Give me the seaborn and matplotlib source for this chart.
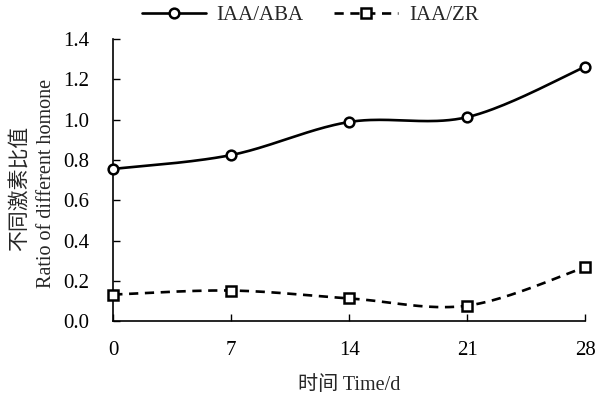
import numpy as np
import pandas as pd
import seaborn as sns
from matplotlib import pyplot as plt
from matplotlib.lines import Line2D

days = [0, 7, 14, 21, 28]
iaa_aba = [0.755, 0.824, 0.988, 1.012, 1.262]
iaa_zr = [0.132, 0.152, 0.113, 0.077, 0.268]
tick_days = [0, 7, 14, 21, 28]
y_ticks = [0.0, 0.2, 0.4, 0.6, 0.8, 1.0, 1.2, 1.4]

sns.set_style("ticks")
plt.rcParams['font.family'] = ['Liberation Serif', 'Noto Sans CJK SC']
plt.rcParams['axes.unicode_minus'] = False


def smoothLine(x, y, n=40):
    # Excel-style smoothed line (Catmull-Rom through the points)
    x = np.asarray(x, float)
    y = np.asarray(y, float)
    px = np.concatenate([[x[0]], x, [x[-1]]])
    py = np.concatenate([[y[0]], y, [y[-1]]])
    xs, ys = [], []
    t = np.linspace(0, 1, n)
    for i in range(1, len(px) - 2):
        p0, p1, p2, p3 = px[i - 1], px[i], px[i + 1], px[i + 2]
        q0, q1, q2, q3 = py[i - 1], py[i], py[i + 1], py[i + 2]
        c1x, c1y = p1 + (p2 - p0) / 6, q1 + (q2 - q0) / 6
        c2x, c2y = p2 - (p3 - p1) / 6, q2 - (q3 - q1) / 6
        bx = (1 - t) ** 3 * p1 + 3 * (1 - t) ** 2 * t * c1x + 3 * (1 - t) * t ** 2 * c2x + t ** 3 * p2
        by = (1 - t) ** 3 * q1 + 3 * (1 - t) ** 2 * t * c1y + 3 * (1 - t) * t ** 2 * c2y + t ** 3 * q2
        xs.extend(bx)
        ys.extend(by)
    return pd.DataFrame({'x': xs, 'y': ys})


fig = plt.figure(figsize=(5.96, 3.97), dpi=100)
ax = fig.add_axes([0.19, 0.191, 0.792, 0.711])

s1 = smoothLine(days, iaa_aba)
s2 = smoothLine(days, iaa_zr)
sns.lineplot(data=s1, x='x', y='y', sort=False, color='black', lw=1.9, ax=ax)
sns.lineplot(data=s2, x='x', y='y', sort=False, color='black', lw=1.9, ax=ax,
             linestyle=(0, (3.5, 2.5)))
ax.plot(days, iaa_aba, 'o', ms=7, mfc='white', mec='black', mew=1.8, clip_on=False, zorder=5)
ax.plot(days, iaa_zr, 's', ms=6.5, mfc='white', mec='black', mew=1.8, clip_on=False, zorder=5)

ax.set_xlim(0, 28)
ax.set_ylim(0, 1.4)
ax.set_xticks(tick_days)
ax.set_yticks(y_ticks)
ax.set_yticklabels([f'{v:.1f}' for v in y_ticks])
ax.tick_params(axis='both', direction='in', length=5, width=1, labelsize=15, colors='black')
ax.tick_params(axis='x', pad=14)
ax.tick_params(axis='y', pad=17)
for side in ['top', 'right']:
    ax.spines[side].set_visible(False)
for side in ['left', 'bottom']:
    ax.spines[side].set_linewidth(1.2)
    ax.spines[side].set_color('black')

ax.set_xlabel('时间 Time/d', fontsize=14.5, labelpad=12)
ax.set_ylabel('')
fig.text(21 / 596, 1 - 188 / 397, '不同激素比值', rotation=90, ha='center', va='center', fontsize=15)
fig.text(47 / 596, 1 - 183 / 397, 'Ratio of different homone', rotation=90, ha='center', va='center', fontsize=14.5)

handles = [Line2D([], [], color='black', lw=1.9, marker='o', ms=7, mfc='white', mew=1.8),
           Line2D([], [], color='black', lw=1.9, ls=(0, (3.5, 2.5)), marker='s', ms=6.5, mfc='white', mew=1.8)]
fig.legend(handles, ['IAA/ABA', 'IAA/ZR'], loc='center', bbox_to_anchor=(310 / 596, 0.962), ncol=2,
           frameon=False, fontsize=15, handlelength=3.1, handletextpad=0.5, columnspacing=1.45)

fig.savefig('out.png', dpi=100)
